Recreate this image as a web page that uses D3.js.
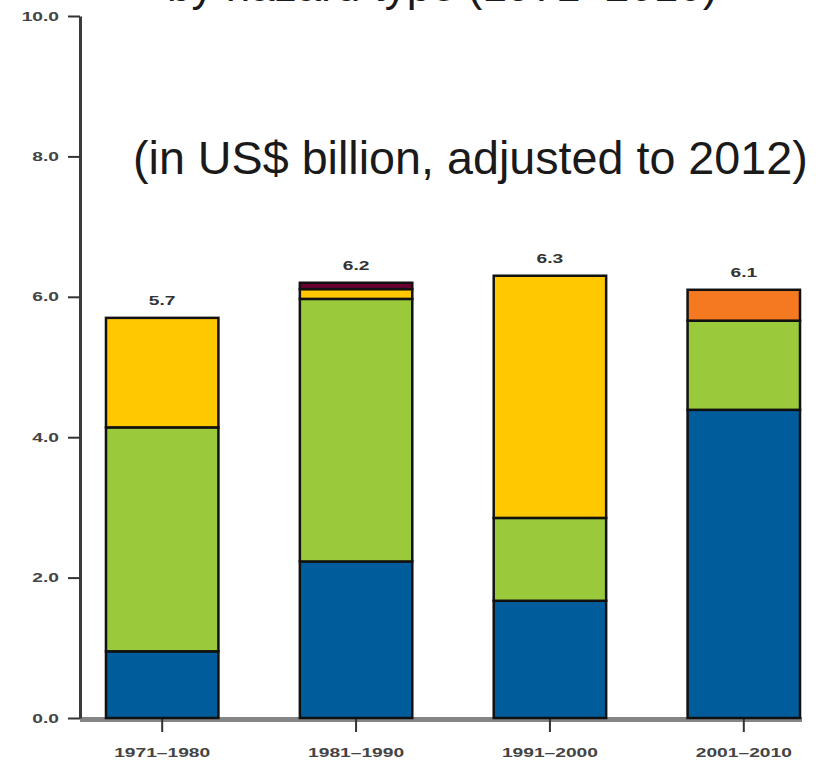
<!DOCTYPE html>
<html>
<head>
<meta charset="utf-8">
<script src="https://cdn.jsdelivr.net/npm/d3@7"></script>
<style>
  html, body { margin: 0; padding: 0; background: #fff; }
  svg { display: block; }
  text { font-family: "Liberation Sans", Arial, Helvetica, sans-serif; }
</style>
</head>
<body>
<svg id="chart" width="822" height="764"></svg>
<script>
// Decades on the x axis
const decades = ["1971–1980", "1981–1990", "1991–2000", "2001–2010"];

// Economic losses per hazard type, US$ billion (2012 dollars), bottom to top of each stack
const storms      = [0.95, 2.23, 1.67, 4.39];
const floods      = [3.19, 3.74, 1.18, 1.27];
const droughts    = [1.56, 0.14, 3.45, 0.00];
const extremeTemp = [0.00, 0.00, 0.00, 0.44];
const wildfires   = [0.00, 0.09, 0.00, 0.00];

// Y axis ticks
const yTicks = [0, 2, 4, 6, 8, 10];

const seriesKeys = ["storms", "floods", "droughts", "extremeTemp", "wildfires"];
const seriesColors = ["#005c9b", "#9aca3c", "#ffc800", "#f47920", "#6b0032"];

const rows = decades.map((d, i) => ({
  decade: d,
  storms: storms[i],
  floods: floods[i],
  droughts: droughts[i],
  extremeTemp: extremeTemp[i],
  wildfires: wildfires[i]
}));

const svg = d3.select("#chart");

const x = d3.scaleBand()
  .domain(decades)
  .range([80, 826])
  .paddingInner(0.42)
  .paddingOuter(0.134);

const y = d3.scaleLinear()
  .domain([0, 10])
  .range([718, 16]);

const color = d3.scaleOrdinal().domain(seriesKeys).range(seriesColors);

// Title lines (the first line runs off the top edge)
svg.append("text")
  .attr("x", 167).attr("y", 1)
  .attr("font-size", 44)
  .attr("fill", "#1a1a1a")
  .text("by hazard type (1971–2010)");

svg.append("text")
  .attr("x", 133).attr("y", 174)
  .attr("font-size", 46.7)
  .attr("fill", "#1a1a1a")
  .text("(in US$ billion, adjusted to 2012)");

// Small, horizontally widened label text
const SX = 1.6;
const smallFont = 12;

// X axis baseline (grey band) drawn beneath the bars
svg.append("line")
  .attr("x1", 80).attr("x2", 802)
  .attr("y1", y(0) + 1.5).attr("y2", y(0) + 1.5)
  .attr("stroke", "#858585")
  .attr("stroke-width", 5);

// X axis ticks and labels
const xAxis = d3.axisBottom(x).tickSize(14).tickSizeOuter(0).tickPadding(0);
const gx = svg.append("g")
  .attr("transform", `translate(0,${y(0)})`)
  .call(xAxis);
gx.select(".domain").remove();
gx.selectAll(".tick line").attr("stroke", "#333").attr("stroke-width", 2);
gx.selectAll(".tick text")
  .attr("y", null).attr("dy", null)
  .attr("x", 0)
  .attr("font-size", smallFont)
  .attr("font-weight", "bold")
  .attr("fill", "#444")
  .attr("text-anchor", "middle")
  .attr("transform", `translate(0,39) scale(${SX},1)`);

// Y axis
const yAxis = d3.axisLeft(y)
  .tickValues(yTicks)
  .tickFormat(d3.format(".1f"))
  .tickSize(12)
  .tickSizeOuter(0)
  .tickPadding(9);
const gy = svg.append("g")
  .attr("transform", "translate(80,0)")
  .call(yAxis);
gy.select(".domain").attr("stroke", "#3a3a3a").attr("stroke-width", 3);
gy.selectAll(".tick line").attr("stroke", "#333").attr("stroke-width", 2);
gy.selectAll(".tick text")
  .attr("x", null).attr("dy", null)
  .attr("font-size", smallFont)
  .attr("font-weight", "bold")
  .attr("fill", "#444")
  .attr("text-anchor", "end")
  .attr("transform", `translate(-21,4) scale(${SX},1)`);

// Stacked bars
const stacked = d3.stack().keys(seriesKeys)(rows);

svg.append("g")
  .selectAll("g")
  .data(stacked)
  .join("g")
  .attr("fill", d => color(d.key))
  .selectAll("rect")
  .data(d => d.filter(s => s[1] - s[0] > 0))
  .join("rect")
  .attr("x", d => x(d.data.decade))
  .attr("y", d => y(d[1]))
  .attr("width", x.bandwidth())
  .attr("height", d => y(d[0]) - y(d[1]))
  .attr("stroke", "#111")
  .attr("stroke-width", 2.5);

// Totals above each bar
svg.append("g")
  .selectAll("text")
  .data(rows)
  .join("text")
  .attr("text-anchor", "middle")
  .attr("font-size", smallFont)
  .attr("font-weight", "bold")
  .attr("fill", "#333")
  .attr("transform", d => {
    const total = d3.sum(seriesKeys, k => d[k]);
    return `translate(${x(d.decade) + x.bandwidth() / 2},${y(total) - 13}) scale(${SX},1)`;
  })
  .text(d => d3.sum(seriesKeys, k => d[k]).toFixed(1));
</script>
</body>
</html>
